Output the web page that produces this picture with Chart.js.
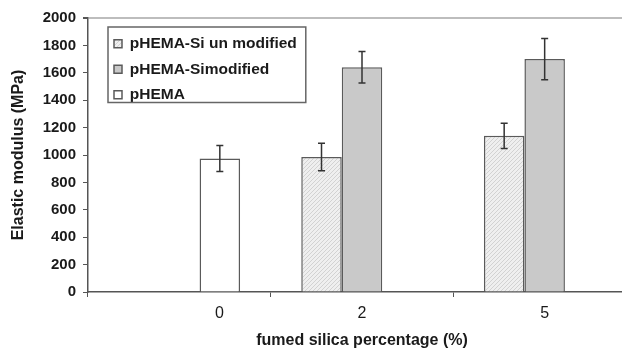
<!DOCTYPE html>
<html>
<head>
<meta charset="utf-8">
<style>
  html, body { margin: 0; padding: 0; overflow: hidden; background: #fff; }
  #wrap { width: 640px; height: 350px; position: relative; }
</style>
<script src="https://cdn.jsdelivr.net/npm/chart.js@4"></script>
</head>
<body>
<div id="wrap"><canvas id="chart"></canvas></div>
<script>
// Fumed silica content on the x axis, elastic modulus (MPa) on the y axis
const categories = ['0', '2', '5'];
const seriesNames = ['pHEMA-Si un modified', 'pHEMA-Simodified', 'pHEMA'];

const unmodified = [null, 985, 1140];
const unmodifiedErr = [null, 100, 92];

const modified = [null, 1640, 1700];
const modifiedErr = [null, 115, 150];

const pHEMA = [975, null, null];
const pHEMAErr = [95, null, null];

const yMin = 0;
const yMax = 2000;
const yStep = 200;

const FONT = '"Liberation Sans", Arial, sans-serif';
const INK = '#1a1a1a';
const LINE = '#555555';

// light grey fill with fine diagonal hatching
function hatchPattern() {
  const c = document.createElement('canvas');
  c.width = 4; c.height = 4;
  const g = c.getContext('2d');
  g.fillStyle = '#efefef';
  g.fillRect(0, 0, 4, 4);
  g.strokeStyle = '#d2d2d2';
  g.lineWidth = 1;
  g.beginPath();
  g.moveTo(0, 4); g.lineTo(4, 0);
  g.moveTo(-1, 1); g.lineTo(1, -1);
  g.moveTo(3, 5); g.lineTo(5, 3);
  g.stroke();
  return g.createPattern(c, 'repeat');
}

// vertical error bars with short caps, drawn from each bar's value ± error
const errorBars = {
  id: 'errorBars',
  afterDatasetsDraw(chart) {
    const ctx = chart.ctx;
    const y = chart.scales.y;
    ctx.save();
    ctx.strokeStyle = '#333';
    ctx.lineWidth = 1.5;
    chart.data.datasets.forEach((ds, i) => {
      const meta = chart.getDatasetMeta(i);
      meta.data.forEach((bar, j) => {
        const v = ds.data[j], e = ds.errors[j];
        if (v == null || e == null) return;
        const x = bar.x;
        const top = y.getPixelForValue(v + e);
        const bot = y.getPixelForValue(v - e);
        ctx.beginPath();
        ctx.moveTo(x, top); ctx.lineTo(x, bot);
        ctx.moveTo(x - 3.5, top); ctx.lineTo(x + 3.5, top);
        ctx.moveTo(x - 3.5, bot); ctx.lineTo(x + 3.5, bot);
        ctx.stroke();
      });
    });
    ctx.restore();
  }
};

// legend sits inside the plot area, upper left, inside a framed box
const legendFrame = {
  id: 'legendFrame',
  afterLayout(chart) {
    const lg = chart.legend, a = chart.chartArea;
    const w = lg.width, h = lg.height;
    lg.left = a.left + 16;
    lg.top = a.top + 8;
    lg.right = lg.left + w;
    lg.bottom = lg.top + h;
  },
  afterDraw(chart) {
    const boxes = chart.legend.legendHitBoxes;
    if (!boxes || !boxes.length) return;
    let l = Infinity, t = Infinity, r = -Infinity, b = -Infinity;
    boxes.forEach(h => {
      l = Math.min(l, h.left); t = Math.min(t, h.top);
      r = Math.max(r, h.left + h.width); b = Math.max(b, h.top + h.height);
    });
    const ctx = chart.ctx;
    ctx.save();
    ctx.strokeStyle = '#666';
    ctx.lineWidth = 1.5;
    ctx.strokeRect(l - 6, t - 9, (r + 9) - (l - 6), b - (t - 9));
    ctx.restore();
  }
};

const ctx = document.getElementById('chart').getContext('2d');

new Chart(ctx, {
  type: 'bar',
  data: {
    labels: categories,
    datasets: [
      { label: seriesNames[0], data: unmodified, errors: unmodifiedErr,
        backgroundColor: hatchPattern(), borderColor: '#5a5a5a', borderWidth: 1.5 },
      { label: seriesNames[1], data: modified, errors: modifiedErr,
        backgroundColor: '#c9c9c9', borderColor: '#5a5a5a', borderWidth: 1.5 },
      { label: seriesNames[2], data: pHEMA, errors: pHEMAErr,
        backgroundColor: '#ffffff', borderColor: '#5a5a5a', borderWidth: 1.5 }
    ]
  },
  options: {
    responsive: true,
    maintainAspectRatio: false,
    animation: false,
    categoryPercentage: 0.665,
    barPercentage: 1.0,
    layout: { padding: { top: 18, right: 4, left: 0, bottom: 0 } },
    plugins: {
      tooltip: { enabled: false },
      legend: {
        position: 'chartArea',
        align: 'start',
        labels: {
          boxWidth: 8,
          boxHeight: 8,
          padding: 10,
          color: INK,
          font: { family: FONT, size: 15.5, weight: 'bold' }
        }
      }
    },
    scales: {
      x: {
        grid: { display: true, drawOnChartArea: false, offset: true, tickLength: 5, color: LINE, lineWidth: 1 },
        border: { color: LINE, width: 1.5 },
        ticks: {
          color: INK,
          padding: 7,
          maxRotation: 0,
          font: { family: FONT, size: 16 },
          callback: (v, i) => (i === 0 ? ' '.repeat(18) : '') + categories[i]
        },
        title: {
          display: true,
          text: 'fumed silica percentage (%)',
          color: INK,
          padding: { top: 4, bottom: 0 },
          font: { family: FONT, size: 16, weight: 'bold' }
        },
        afterFit: s => { s.height = 58; }
      },
      y: {
        min: yMin,
        max: yMax,
        ticks: {
          stepSize: yStep,
          color: INK,
          padding: 7,
          font: { family: FONT, size: 15, weight: 'bold' },
          callback: v => String(v)
        },
        grid: {
          drawOnChartArea: true,
          tickLength: 5,
          tickColor: LINE,
          color: c => (c.tick && c.tick.value === yMax) ? '#bdbdbd' : 'rgba(0,0,0,0)',
          lineWidth: c => (c.tick && c.tick.value === yMax) ? 2 : 1
        },
        border: { color: LINE, width: 1.5 },
        title: {
          display: true,
          text: 'Elastic modulus (MPa)',
          color: INK,
          padding: { top: 9, bottom: 0 },
          font: { family: FONT, size: 16, weight: 'bold' }
        },
        afterFit: s => { s.width = 88; }
      }
    }
  },
  plugins: [errorBars, legendFrame]
});
</script>
</body>
</html>
